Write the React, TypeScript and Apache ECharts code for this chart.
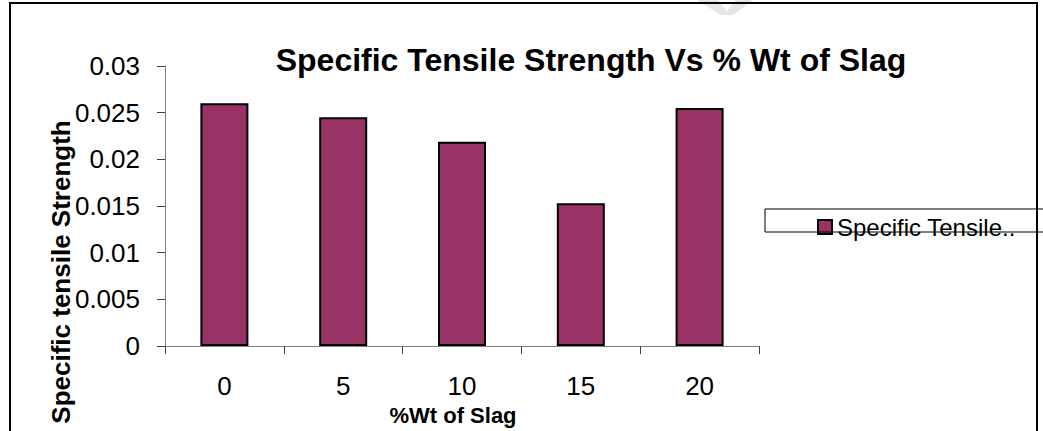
import React, { useEffect, useRef } from "react";
import * as echarts from "echarts";

const categories = ["0", "5", "10", "15", "20"];
const values = [0.026, 0.0245, 0.0219, 0.0153, 0.0255];
const seriesName = "Specific Tensile Strength";
const legendLabel = "Specific Tensile..";
const chartTitle = "Specific Tensile Strength Vs % Wt of Slag";
const yName = "Specific tensile Strength";
const xName = "%Wt of Slag";

const FONT = "'Liberation Sans', Arial, sans-serif";

export default function App() {
  const ref = useRef<HTMLDivElement>(null);
  useEffect(() => {
    if (!ref.current) return;
    const chart = echarts.init(ref.current, null, { renderer: "svg" });
    chart.setOption({
      animation: false,
      backgroundColor: "#ffffff",
      textStyle: { fontFamily: FONT },
      grid: { left: 165, top: 66, right: 1043 - 759, bottom: 431 - 354, containLabel: false },
      xAxis: {
        type: "category",
        data: categories,
        boundaryGap: true,
        axisLine: { show: true, lineStyle: { color: "#808080", width: 1 } },
        axisTick: { show: true, alignWithLabel: false, length: 8, lineStyle: { color: "#404040" } },
        axisLabel: { color: "#000", fontSize: 26, fontFamily: FONT, margin: 27 },
        name: xName,
        nameLocation: "middle",
        nameGap: 50,
        nameTextStyle: { color: "#000", fontSize: 22, fontWeight: "bold", fontFamily: FONT, padding: [0, 18, 0, 0] },
      },
      yAxis: {
        type: "value",
        min: 0,
        max: 0.03,
        interval: 0.005,
        axisLine: { show: true, lineStyle: { color: "#808080", width: 1 } },
        axisTick: { show: true, length: 8, lineStyle: { color: "#404040" } },
        splitLine: { show: false },
        axisLabel: {
          color: "#000",
          fontSize: 26,
          fontFamily: FONT,
          margin: 25,
          formatter: (v: number) => String(parseFloat(v.toFixed(3))),
        },
      },
      legend: {
        show: true,
        left: 812,
        top: 210,
        itemWidth: 14,
        itemHeight: 14,
        icon: "rect",
        formatter: () => legendLabel,
        textStyle: { color: "#000", fontSize: 24, fontFamily: FONT },
        data: [seriesName],
      },
      graphic: [
        {
          type: "polygon",
          shape: {
            points: [
              [697, 0], [718, 0], [727, 11], [736, 0], [753, 0], [733, 15], [721, 15],
            ],
          },
          style: { fill: "#e6e6e6" },
          silent: true,
          z: 0,
        },
        {
          type: "rect",
          shape: { x: 10, y: 3, width: 1027, height: 440 },
          style: { fill: "none", stroke: "#000", lineWidth: 2 },
          silent: true,
          z: 100,
        },
        {
          type: "rect",
          shape: { x: 765, y: 209, width: 280, height: 23 },
          style: { fill: "none", stroke: "#000", lineWidth: 1 },
          silent: true,
          z: 100,
        },
        {
          type: "text",
          x: 591,
          y: 60,
          style: {
            text: chartTitle,
            fill: "#000",
            font: `bold 32px ${FONT}`,
            textAlign: "center",
            textVerticalAlign: "middle",
          },
        },
        {
          type: "text",
          x: 61,
          y: 272,
          rotation: Math.PI / 2,
          style: {
            text: yName,
            fill: "#000",
            font: `bold 26px ${FONT}`,
            textAlign: "center",
            textVerticalAlign: "middle",
          },
        },
      ],
      series: [
        {
          name: seriesName,
          type: "bar",
          data: values,
          barWidth: 48,
          itemStyle: { color: "#993366", borderColor: "#000", borderWidth: 2 },
        },
      ],
    });
    return () => chart.dispose();
  }, []);
  return (
    <div
      ref={ref}
      style={{ position: "fixed", left: 0, top: 0, width: 1043, height: 431 }}
    />
  );
}
